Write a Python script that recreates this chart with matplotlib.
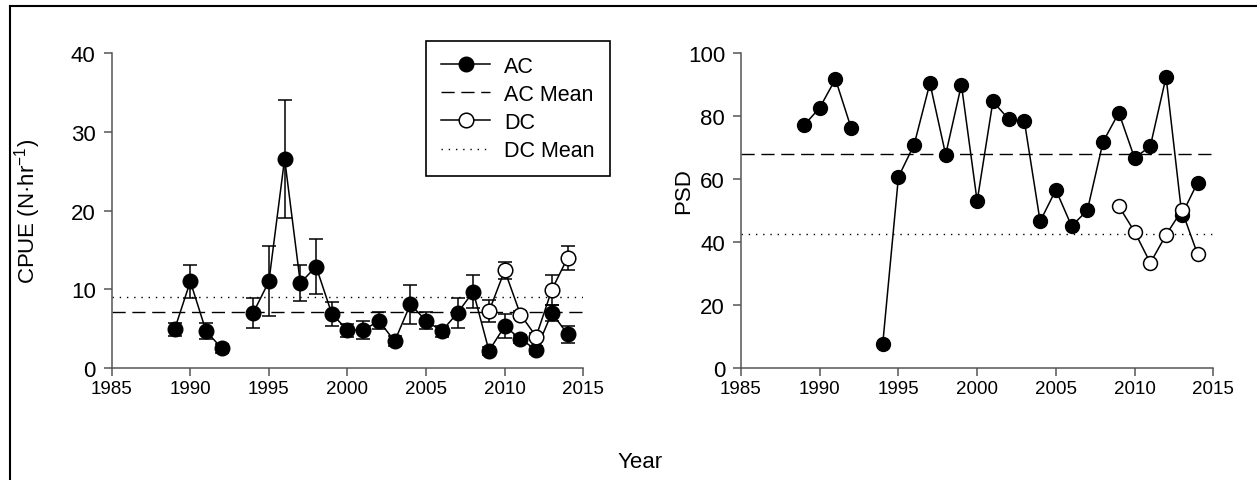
import numpy as np
import matplotlib
matplotlib.use("Agg")
import matplotlib.pyplot as plt
from matplotlib.lines import Line2D

plt.rcParams['font.family'] = ['Liberation Sans', 'DejaVu Sans']
plt.rcParams['mathtext.fontset'] = 'custom'
plt.rcParams['mathtext.rm'] = 'Liberation Sans'
plt.rcParams['mathtext.it'] = 'Liberation Sans'

# AC (1993 missing)
ac_years = np.arange(1989, 2015)
ac_cpue = [4.9, 11.0, 4.7, 2.5, np.nan, 7.0, 11.0, 26.6, 10.8, 12.9, 6.9, 4.8, 4.8,
           6.0, 3.4, 8.1, 6.0, 4.7, 7.0, 9.7, 2.2, 5.3, 3.7, 2.3, 7.0, 4.3]
ac_cpue_se = [0.8, 2.15, 1.0, 0.55, np.nan, 1.9, 4.45, 7.5, 2.25, 3.5, 1.55, 0.8, 1.15,
              1.1, 0.65, 2.45, 1.1, 0.7, 1.9, 2.1, 0.5, 1.55, 0.5, 0.5, 1.0, 1.1]
ac_psd = [77.1, 82.7, 91.8, 76.2, np.nan, 7.5, 60.7, 71.0, 90.5, 67.8, 90.0, 53.0, 84.7,
          79.1, 78.4, 46.6, 56.6, 45.1, 50.1, 71.9, 81.1, 66.7, 70.5, 92.5, 48.7, 58.9]

# DC
dc_years = np.arange(2009, 2015)
dc_cpue = [7.2, 12.4, 6.8, 4.0, 9.95, 14.0]
dc_cpue_se = [1.4, 1.1, 0.5, 0.4, 1.9, 1.5]
dc_psd = [51.4, 43.3, 33.4, 42.3, 50.1, 36.2]

ac_cpue_mean = 7.08
dc_cpue_mean = 9.02
ac_psd_mean = 68.0
dc_psd_mean = 42.7

W, H = 1257, 481
fig = plt.figure(figsize=(W / 100, H / 100), dpi=100)

ax1 = fig.add_axes([111.7 / W, 1 - 369 / H, 471.6 / W, 314.7 / H])
ax2 = fig.add_axes([741 / W, 1 - 369 / H, 472.3 / W, 314.7 / H])

dash = (0, (9.5, 4.8))
dot = (0, (1, 4.2))
spine_col = '#555555'

# left panel: CPUE
ax1.errorbar(ac_years, ac_cpue, yerr=ac_cpue_se, fmt='none', ecolor='black',
             elinewidth=1.1, capsize=4.7, capthick=1.1, zorder=2)
ax1.errorbar(dc_years, dc_cpue, yerr=dc_cpue_se, fmt='none', ecolor='black',
             elinewidth=1.1, capsize=4.7, capthick=1.1, zorder=2)
ax1.plot(ac_years, ac_cpue, '-o', color='black', lw=1.1, ms=10.5,
         mfc='black', mec='black', zorder=3, label='AC')
ax1.axhline(ac_cpue_mean, color='black', lw=1, ls=dash, zorder=1, label='AC Mean')
ax1.plot(dc_years, dc_cpue, '-o', color='black', lw=1.1, ms=10.5,
         mfc='white', mec='black', mew=1.1, zorder=4, label='DC')
ax1.axhline(dc_cpue_mean, color='black', lw=1, ls=dot, zorder=1, label='DC Mean')
ax1.set_ylim(0, 40)
ax1.set_yticks([0, 10, 20, 30, 40])
ax1.set_ylabel('CPUE (N·hr$^{-1}$)', fontsize=16)
ax1.yaxis.set_label_coords(-0.145, 0.5)

# right panel: PSD
ax2.plot(ac_years, ac_psd, '-o', color='black', lw=1.1, ms=10, mfc='black',
         mec='black', zorder=3)
ax2.axhline(ac_psd_mean, color='black', lw=1, ls=dash, zorder=1)
ax2.plot(dc_years, dc_psd, '-o', color='black', lw=1.1, ms=10, mfc='white',
         mec='black', mew=1.1, zorder=4)
ax2.axhline(dc_psd_mean, color='black', lw=1, ls=dot, zorder=1)
ax2.set_ylim(0, 100)
ax2.set_yticks([0, 20, 40, 60, 80, 100])
ax2.set_ylabel('PSD', fontsize=16)
ax2.yaxis.set_label_coords(-0.1, 0.565)

for ax in (ax1, ax2):
    ax.set_xlim(1985, 2015)
    ax.set_xticks(np.arange(1985, 2016, 5))
    for s in ('top', 'right'):
        ax.spines[s].set_visible(False)
    for s in ('left', 'bottom'):
        ax.spines[s].set_color(spine_col)
        ax.spines[s].set_linewidth(1.1)
    ax.tick_params(axis='both', direction='out', length=5.5, width=1.1, color=spine_col)
    ax.tick_params(axis='y', labelsize=16, pad=6)
    ax.tick_params(axis='x', pad=3)
    for lab in ax.get_xticklabels():
        lab.set_fontfamily(['Liberation Sans Narrow', 'Liberation Sans'])
        lab.set_fontsize(13.5)

leg = ax1.legend(loc='upper left', bbox_to_anchor=(425.7 / W, 1 - 41.7 / H),
                 bbox_transform=fig.transFigure, fontsize=15.5, frameon=True,
                 fancybox=False, edgecolor='black', framealpha=1,
                 handlelength=2.3, handletextpad=0.65, borderpad=0.7,
                 labelspacing=0.33, borderaxespad=0)
leg.get_frame().set_linewidth(1.2)

fig.text(640 / W, 1 - 463 / H, 'Year', fontsize=16, ha='center', va='center')

# outer frame (top and left edges visible)
fig.add_artist(Line2D([10 / W, 1], [1 - 7 / H, 1 - 7 / H], transform=fig.transFigure,
                      color='black', lw=1.5))
fig.add_artist(Line2D([10 / W, 10 / W], [0, 1 - 7 / H], transform=fig.transFigure,
                      color='black', lw=1.5))

fig.savefig('out.png', dpi=100)
